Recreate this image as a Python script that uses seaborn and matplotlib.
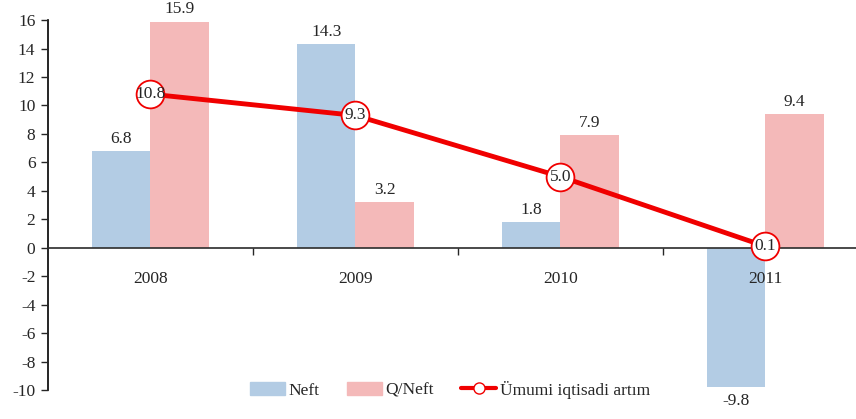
import pandas as pd
import numpy as np
import matplotlib.pyplot as plt
import seaborn as sns
from matplotlib.patches import Patch
from matplotlib.lines import Line2D

years = ['2008', '2009', '2010', '2011']
neft = [6.8, 14.3, 1.8, -9.8]
qneft = [15.9, 3.2, 7.9, 9.4]
umumi = [10.8, 9.3, 5.0, 0.1]

series_names = ['Neft', 'Q/Neft']
line_name = 'Ümumi iqtisadi artım'
bar_colors = ['#B3CCE4', '#F4B9B9']
line_color = '#F00000'
fs = 12.5

sns.set_theme(style='white')
plt.rcParams['font.family'] = ['Liberation Serif', 'DejaVu Serif']
plt.rcParams['axes.unicode_minus'] = False

df = pd.DataFrame({'year': years * 2,
                   'value': neft + qneft,
                   'series': [series_names[0]] * 4 + [series_names[1]] * 4})

fig = plt.figure(figsize=(8.56, 4.19), dpi=100)
ax = fig.add_axes([0.056, 0.069, 0.958, 0.883])

sns.barplot(data=df, x='year', y='value', hue='series', palette=bar_colors,
            width=0.57, saturation=1, linewidth=0, edgecolor='none', ax=ax, legend=False)

line_df = pd.DataFrame({'x': np.arange(len(years)), 'y': umumi})
sns.lineplot(data=line_df, x='x', y='y', color=line_color, linewidth=3.5,
             marker='o', markersize=20, markerfacecolor='white',
             markeredgecolor=line_color, markeredgewidth=1.3, ax=ax, zorder=5)

# bar value labels
for cont in ax.containers:
    for bar in cont:
        h = bar.get_height()
        xc = bar.get_x() + bar.get_width() / 2
        if h >= 0:
            ax.text(xc, h + 0.3, f'{h:.1f}', ha='center', va='bottom', fontsize=fs, clip_on=False)
        else:
            ax.text(xc, h - 0.4, f'{h:.1f}', ha='center', va='top', fontsize=fs, clip_on=False)

for i, v in enumerate(umumi):
    ax.text(i, v, f'{v:.1f}', ha='center', va='center', fontsize=fs, zorder=6)

ax.set_xlim(-0.5, 3.5)
ax.set_ylim(-10, 16)
ax.set_yticks(range(-10, 17, 2))
ax.set_xlabel('')
ax.set_ylabel('')
ax.set_axisbelow(False)

for s in ['top', 'right']:
    ax.spines[s].set_visible(False)
ax.spines['bottom'].set_position(('data', 0))
ax.spines['left'].set_color('black')
ax.spines['bottom'].set_color('#333333')
ax.spines['left'].set_linewidth(1.2)

ax.tick_params(axis='y', direction='out', length=5, width=1, left=True, labelsize=fs, pad=4)
ax.set_xticks(range(len(years)))
ax.set_xticklabels(years)
ax.tick_params(axis='x', length=0, pad=17, labelsize=fs)
ax.set_xticks([0.5, 1.5, 2.5], minor=True)
ax.tick_params(axis='x', which='minor', direction='out', length=5, width=1, bottom=True)

handles = [Patch(color=bar_colors[0], label=series_names[0]),
           Patch(color=bar_colors[1], label=series_names[1]),
           Line2D([0], [0], color=line_color, linewidth=3, marker='o', markersize=8,
                  markerfacecolor='white', markeredgecolor=line_color, label=line_name)]
ax.legend(handles=handles, loc='lower center', bbox_to_anchor=(0.49, -0.065), ncol=3,
          frameon=False, fontsize=fs, handlelength=2.0, handletextpad=0.2, columnspacing=1.6)

fig.savefig('out.png', dpi=100)
